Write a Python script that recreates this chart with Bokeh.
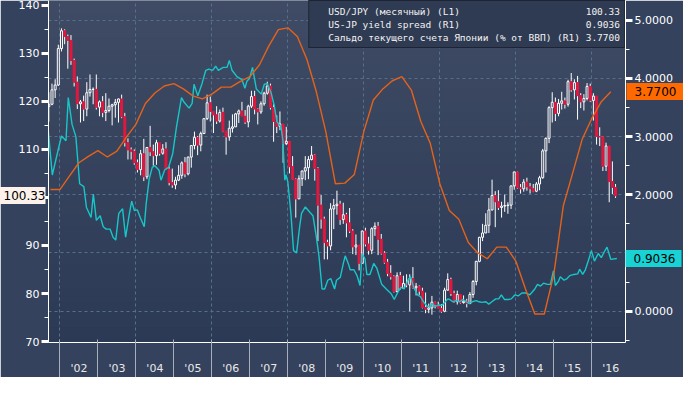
from bokeh.plotting import figure
from bokeh.models import (Range1d, LinearAxis, FixedTicker, SingleIntervalTicker,
                          NumeralTickFormatter, Grid, Legend, LegendItem,
                          BoxAnnotation, ColumnDataSource)
from bokeh.embed import file_html
from bokeh.resources import INLINE

# ---------------- data ----------------
# USD/JPY monthly candles, Sep 2001 .. Aug 2016
first_month = (2001, 9)
first_open = 118.9
usdjpy_close = [
    119.4, 122.4, 123.4, 131.0,
    134.7, 133.5, 132.7, 128.5, 124.0, 119.5, 119.9, 118.4, 121.8, 122.5, 122.5, 118.8,
    119.9, 117.7, 118.1, 119.0, 119.3, 119.8, 120.5, 116.8, 111.4, 109.9, 109.6, 107.2,
    105.8, 109.1, 104.3, 110.4, 109.5, 108.7, 111.4, 109.2, 110.1, 105.9, 103.1, 102.6,
    103.6, 104.6, 107.2, 104.9, 108.4, 110.8, 112.5, 110.9, 113.3, 116.4, 119.7, 117.9,
    117.2, 115.9, 117.7, 113.8, 112.6, 114.4, 114.7, 117.4, 118.0, 116.9, 115.7, 119.0,
    121.0, 118.4, 117.8, 119.5, 121.7, 123.2, 118.7, 115.8, 114.8, 115.3, 111.2, 111.7,
    106.4, 103.8, 99.7, 103.9, 105.5, 106.2, 107.9, 108.8, 106.0, 98.4, 95.5, 90.6,
    89.9, 97.6, 98.3, 98.6, 95.4, 96.4, 94.7, 93.0, 89.7, 90.1, 86.3, 93.0,
    90.3, 89.0, 93.5, 94.0, 91.3, 88.4, 86.5, 84.2, 83.5, 80.4, 83.7, 81.1,
    82.1, 81.8, 83.1, 81.2, 81.5, 80.5, 77.1, 76.7, 77.0, 78.2, 77.6, 76.9,
    76.3, 80.7, 82.9, 80.0, 78.3, 79.8, 78.1, 78.4, 77.9, 79.8, 82.5, 86.7,
    91.7, 92.6, 94.2, 97.4, 100.4, 99.1, 97.9, 98.2, 98.3, 98.4, 102.4, 105.3,
    102.0, 101.8, 103.2, 102.2, 101.8, 101.3, 102.8, 104.1, 109.7, 112.3, 118.7, 119.8,
    117.5, 119.6, 120.1, 119.4, 124.1, 122.4, 123.9, 121.2, 119.9, 120.6, 123.1, 120.2,
    121.1, 112.7, 112.6, 106.5, 110.7, 103.3, 102.1, 100.33,
]
usdjpy_high = [
    121.9, 123.7, 124.6, 131.8,
    135.2, 135.0, 133.9, 133.8, 128.9, 125.2, 120.3, 121.2, 124.0, 125.6, 122.9, 125.6,
    120.2, 121.1, 121.7, 120.6, 119.5, 120.5, 120.6, 121.4, 117.6, 112.3, 110.4, 110.0,
    107.9, 109.9, 112.2, 110.5, 114.9, 111.0, 112.0, 111.4, 111.1, 111.5, 106.4, 106.0,
    104.3, 106.7, 107.5, 108.4, 108.5, 110.9, 113.7, 112.8, 113.7, 116.4, 121.4, 121.0,
    117.9, 119.0, 118.3, 118.7, 113.8, 116.0, 117.3, 117.6, 118.3, 119.9, 118.2, 119.3,
    122.2, 122.2, 118.6, 120.0, 122.0, 124.1, 123.7, 119.4, 117.1, 117.9, 115.3, 114.7,
    111.5, 108.6, 104.0, 104.6, 105.6, 108.6, 108.6, 110.7, 109.0, 106.3, 100.5, 96.0,
    91.2, 98.8, 99.7, 101.4, 99.3, 98.9, 96.8, 97.8, 93.4, 92.3, 90.0, 93.1,
    93.7, 91.8, 93.8, 94.8, 94.9, 92.4, 88.8, 87.2, 85.9, 83.8, 84.4, 84.5,
    83.7, 84.0, 84.0, 85.5, 82.2, 81.7, 81.2, 80.2, 77.9, 79.5, 78.3, 78.3,
    77.8, 81.2, 84.2, 83.3, 80.6, 80.6, 79.9, 79.6, 78.9, 80.3, 82.8, 86.8,
    91.8, 94.5, 96.7, 99.9, 103.7, 101.3, 101.5, 99.1, 100.6, 99.0, 102.5, 105.4,
    105.4, 102.8, 103.8, 104.1, 103.0, 102.8, 103.2, 104.5, 110.1, 112.5, 119.0, 121.9,
    120.8, 120.5, 122.0, 120.8, 124.5, 125.9, 124.6, 125.3, 121.7, 121.5, 123.8, 123.7,
    121.7, 121.0, 114.6, 112.7, 111.4, 110.5, 107.5, 102.8,
]
usdjpy_low = [
    115.8, 119.2, 120.7, 123.2,
    130.4, 131.9, 126.8, 127.6, 123.1, 118.4, 115.6, 115.9, 116.9, 121.0, 119.4, 118.3,
    116.9, 116.7, 115.9, 117.7, 115.0, 116.6, 115.6, 116.5, 110.6, 107.9, 107.9, 106.8,
    105.2, 104.6, 103.4, 103.8, 108.6, 106.6, 106.8, 108.7, 108.9, 105.8, 102.5, 102.0,
    101.7, 103.4, 103.9, 104.2, 104.6, 106.2, 110.0, 108.8, 109.6, 113.3, 116.1, 115.8,
    113.4, 115.3, 115.6, 113.6, 108.9, 111.8, 113.5, 114.7, 115.5, 116.9, 115.3, 114.6,
    118.6, 117.3, 115.2, 117.4, 119.1, 121.4, 118.3, 111.6, 113.4, 114.0, 107.2, 110.9,
    105.0, 103.7, 95.8, 99.7, 102.4, 103.6, 103.8, 107.7, 103.5, 90.9, 93.5, 87.1,
    87.1, 89.0, 93.4, 96.4, 94.3, 94.5, 91.7, 92.6, 88.2, 88.0, 84.8, 86.3,
    89.8, 88.1, 88.2, 92.0, 88.0, 88.1, 86.2, 83.6, 82.9, 80.2, 80.2, 80.8,
    81.1, 81.3, 76.3, 81.0, 79.6, 79.7, 76.9, 75.9, 75.9, 75.6, 76.9, 76.9,
    76.0, 76.1, 80.6, 79.5, 78.1, 77.7, 77.9, 77.9, 77.1, 77.8, 79.1, 81.7,
    86.5, 90.9, 92.6, 92.6, 97.3, 93.8, 97.4, 95.8, 97.0, 96.6, 97.6, 101.6,
    101.8, 100.8, 101.2, 101.4, 100.8, 101.1, 101.1, 101.5, 103.9, 105.2, 111.3, 115.6,
    115.9, 116.9, 118.3, 118.5, 118.9, 122.0, 120.4, 116.2, 118.6, 118.1, 120.2, 119.9,
    116.0, 111.0, 110.7, 105.5, 105.5, 99.0, 100.7, 99.9,
]

# US-JP yield spread (R1), decimal-year dates
spread_dates = [
    2001.68, 2001.80, 2002.04, 2002.16, 2002.22, 2002.32, 2002.42, 2002.52, 2002.63, 2002.70,
    2002.82, 2002.88, 2002.96, 2003.06, 2003.14, 2003.22, 2003.32, 2003.40, 2003.47, 2003.55,
    2003.65, 2003.73, 2003.83, 2003.89, 2003.96, 2004.04, 2004.12, 2004.22, 2004.27, 2004.35,
    2004.43, 2004.50, 2004.61, 2004.66, 2004.76, 2004.86, 2004.97, 2005.07, 2005.20, 2005.27,
    2005.40, 2005.48, 2005.53, 2005.63, 2005.74, 2005.84, 2005.92, 2006.02, 2006.10, 2006.17,
    2006.30, 2006.40, 2006.46, 2006.53, 2006.66, 2006.79, 2006.87, 2006.92, 2006.99, 2007.07,
    2007.17, 2007.30, 2007.38, 2007.46, 2007.56, 2007.64, 2007.71, 2007.82, 2007.87, 2007.92,
    2007.95, 2008.00, 2008.08, 2008.15, 2008.23, 2008.31, 2008.36, 2008.46, 2008.59, 2008.66,
    2008.74, 2008.82, 2008.90, 2008.97, 2009.05, 2009.13, 2009.23, 2009.28, 2009.38, 2009.46,
    2009.51, 2009.59, 2009.64, 2009.74, 2009.82, 2009.90, 2009.95, 2010.03, 2010.08, 2010.16,
    2010.26, 2010.34, 2010.47, 2010.59, 2010.72, 2010.80, 2010.90, 2010.98, 2011.06, 2011.16,
    2011.23, 2011.31, 2011.41, 2011.49, 2011.57, 2011.67, 2011.75, 2011.80, 2011.88, 2011.95,
    2012.06, 2012.13, 2012.21, 2012.26, 2012.34, 2012.42, 2012.52, 2012.60, 2012.70, 2012.78,
    2012.85, 2012.96, 2013.03, 2013.11, 2013.21, 2013.29, 2013.37, 2013.47, 2013.55, 2013.62,
    2013.70, 2013.80, 2013.88, 2013.98, 2014.06, 2014.16, 2014.27, 2014.37, 2014.50, 2014.57,
    2014.65, 2014.73, 2014.83, 2014.91, 2014.99, 2015.04, 2015.12, 2015.17, 2015.27, 2015.35,
    2015.42, 2015.53, 2015.63, 2015.68, 2015.76, 2015.83, 2015.91, 2015.99, 2016.07, 2016.17,
    2016.25, 2016.33, 2016.40, 2016.50, 2016.66,
]
spread_values = [
    3.21, 2.34, 3.01, 2.93, 3.67, 3.21, 3.00, 2.19, 2.14, 1.78,
    1.61, 2.01, 1.56, 1.64, 1.45, 1.41, 1.41, 1.27, 1.22, 1.68,
    1.76, 1.27, 1.68, 1.89, 1.73, 1.74, 1.60, 1.45, 1.84, 2.27,
    2.47, 2.50, 2.42, 2.25, 2.43, 2.47, 2.71, 3.17, 3.67, 3.59,
    3.49, 3.57, 3.90, 3.70, 3.91, 4.14, 4.16, 4.14, 4.21, 4.14,
    4.19, 4.19, 4.31, 4.14, 4.03, 3.98, 3.83, 3.95, 4.00, 4.19,
    3.82, 3.73, 3.90, 3.91, 3.75, 3.54, 3.26, 3.17, 2.93, 2.25,
    2.34, 2.22, 1.68, 1.04, 1.00, 1.45, 1.68, 1.79, 1.69, 1.64,
    1.32, 0.94, 0.38, 0.38, 0.53, 0.56, 0.38, 0.53, 0.58, 0.82,
    0.95, 0.82, 0.71, 0.71, 0.61, 0.44, 0.99, 0.90, 0.63, 0.63,
    0.82, 0.74, 0.46, 0.38, 0.30, 0.20, 0.33, 0.41, 0.38, 0.53,
    0.59, 0.41, 0.28, 0.25, 0.16, 0.08, 0.08, 0.13, 0.08, 0.10,
    0.10, 0.15, 0.21, 0.20, 0.16, 0.18, 0.16, 0.20, 0.16, 0.13,
    0.16, 0.18, 0.16, 0.15, 0.16, 0.12, 0.16, 0.21, 0.21, 0.28,
    0.20, 0.20, 0.21, 0.28, 0.26, 0.31, 0.31, 0.28, 0.38, 0.46,
    0.43, 0.48, 0.46, 0.46, 0.69, 0.44, 0.51, 0.59, 0.53, 0.56,
    0.61, 0.63, 0.64, 0.72, 0.63, 0.71, 0.87, 1.04, 0.86, 0.99,
    0.92, 1.02, 1.10, 0.89, 0.9036,
]

# Japan current account, % of GDP (R1), quarterly from 2001 Q4
ca_start = 2001.75
ca_values = [
    2.09,
    2.09, 2.32, 2.55, 2.66,
    2.76, 2.65, 2.75, 2.99,
    3.21, 3.57, 3.75, 3.87,
    3.91, 3.82, 3.70, 3.65,
    3.73, 3.85, 3.85, 3.95,
    4.03, 4.23, 4.56, 4.84,
    4.87, 4.72, 4.33, 3.77,
    3.08, 2.19, 2.20, 2.35,
    3.09, 3.63, 3.82, 3.96,
    4.03, 3.80, 3.26, 2.88,
    2.19, 1.73, 1.58, 1.18,
    1.00, 0.90, 1.10, 1.10,
    0.86, 0.39, -0.05, -0.05,
    0.63, 1.81, 2.38, 2.96,
    3.31, 3.60, 3.77,
]

years = list(range(2002, 2017))
year_labels = ["'02", "'03", "'04", "'05", "'06", "'07", "'08", "'09",
               "'10", "'11", "'12", "'13", "'14", "'15", "'16"]

legend_names = ["USD/JPY (месячный) (L1)",
                "US-JP yield spread (R1)",
                "Сальдо текущего счета Японии (% от ВВП) (R1)"]

# ---------------- derived ----------------
n = len(usdjpy_close)
t = []
yy, mm = first_month
for i in range(n):
    t.append(yy + (mm - 0.5) / 12.0)
    mm += 1
    if mm > 12:
        mm = 1
        yy += 1
opens = [first_open] + usdjpy_close[:-1]
ca_dates = [ca_start + 0.25 * i for i in range(len(ca_values))]

up = dict(x=[], o=[], c=[], h=[], l=[], bt=[], bb=[])
dn = dict(x=[], o=[], c=[], h=[], l=[], bt=[], bb=[])
for x, o, h, l, c in zip(t, opens, usdjpy_high, usdjpy_low, usdjpy_close):
    d = up if c >= o else dn
    d["x"].append(x); d["o"].append(o); d["c"].append(c)
    d["h"].append(h); d["l"].append(l)
    d["bt"].append(max(o, c)); d["bb"].append(min(o, c))

W, H = 683, 377
BL, BR, BT, BB = 48, 58, 0, 34          # borders around the frame
X0, X1 = 2001.70, 2016.887
L0, L1 = 69.8, 141.0
R0, R1 = -0.54, 5.34
p = figure(width=W, height=H, output_backend="svg", toolbar_location=None,
           x_range=Range1d(X0, X1), y_range=Range1d(L0, L1),
           x_axis_location=None, y_axis_location=None,
           min_border_left=BL, min_border_right=BR, min_border_top=BT,
           min_border_bottom=BB)
p.extra_y_ranges = {"right": Range1d(R0, R1)}
p.outline_line_color = None
p.grid.grid_line_color = None
p.background_fill_color = "#36435e"
p.border_fill_color = "#35425d"

# background gradient
top_c = (0x3f, 0x4b, 0x64)
bot_c = (0x2a, 0x38, 0x54)
nb = 30
for i in range(nb):
    f = i / (nb - 1)
    col = "#%02x%02x%02x" % tuple(int(round(a + (b - a) * f)) for a, b in zip(top_c, bot_c))
    p.add_layout(BoxAnnotation(left=0, right=W, top=i * H / nb, bottom=(i + 1) * H / nb + 1,
                               left_units="canvas", right_units="canvas",
                               top_units="canvas", bottom_units="canvas",
                               fill_color=col, fill_alpha=1, line_alpha=0,
                               level="image", propagate_hover=False))

grid_col = "#56708c"
p.add_layout(Grid(dimension=0, ticker=FixedTicker(ticks=years[::2]),
                  grid_line_color=grid_col, grid_line_dash="3 3", grid_line_width=1))
p.add_layout(Grid(dimension=1, y_range_name="right", ticker=FixedTicker(ticks=[0, 1, 2, 3, 4, 5]),
                  grid_line_color=grid_col, grid_line_dash="3 3", grid_line_width=1))

# candles
su = ColumnDataSource(up)
sd = ColumnDataSource(dn)
for s in (su, sd):
    p.segment(x0="x", y0="bt", x1="x", y1="h", source=s, line_color="white", line_width=1)
    p.segment(x0="x", y0="l", x1="x", y1="bb", source=s, line_color="white", line_width=1)
p.vbar(x="x", width=0.052, top="bt", bottom="bb", source=su,
       fill_alpha=0, line_color="white", line_width=1)
p.vbar(x="x", width=0.052, top="bt", bottom="bb", source=sd,
       fill_color="#e3173e", line_color="#e3173e", line_width=1)

cyan = "#17c6c8"
orange = "#e5621a"
p.line(spread_dates, spread_values, y_range_name="right", line_color=cyan, line_width=1.4)
p.line(ca_dates, ca_values, y_range_name="right", line_color=orange, line_width=1.4)

# axes
lab_font = "DejaVu Sans"
yl = LinearAxis(ticker=SingleIntervalTicker(interval=10, num_minor_ticks=2),
                major_label_overrides={100: ""})
yr = LinearAxis(y_range_name="right", ticker=SingleIntervalTicker(interval=1, num_minor_ticks=2),
                formatter=NumeralTickFormatter(format="0.0000"),
                major_label_overrides={1: ""})
for ax in (yl, yr):
    ax.axis_line_color = "white"
    ax.major_tick_line_color = "white"
    ax.major_tick_line_width = 3
    ax.major_tick_out = 7
    ax.major_tick_in = 0
    ax.minor_tick_line_color = "white"
    ax.minor_tick_out = 4
    ax.minor_tick_in = 0
    ax.major_label_standoff = 2
    ax.major_label_text_color = "white"
    ax.major_label_text_font = lab_font
    ax.major_label_text_font_size = "11px"
p.add_layout(yl, "left")
p.add_layout(yr, "right")

mids = [y + 0.5 for y in years]
xa = LinearAxis(ticker=FixedTicker(ticks=mids, minor_ticks=years),
                major_label_overrides={m: s for m, s in zip(mids, year_labels)})
xa.axis_line_color = "white"
xa.major_tick_line_color = None
xa.major_tick_out = 0
xa.major_tick_in = 0
xa.minor_tick_line_color = "#a7afbb"
xa.minor_tick_out = 36
xa.minor_tick_in = 3
xa.major_label_standoff = -17
xa.major_label_text_color = "#e8e8e8"
xa.major_label_text_font = lab_font
xa.major_label_text_font_size = "11px"
p.add_layout(xa, "below")


# last-value tags: one thin extra axis per tag; its single thick tick is the
# coloured tag box and its tick label is the value
def tag_axis(value, fmt, colour, range_name, tick_out, tick_in, standoff):
    kw = {} if range_name is None else {"y_range_name": range_name}
    ax = LinearAxis(ticker=FixedTicker(ticks=[value]),
                    formatter=NumeralTickFormatter(format=fmt), **kw)
    ax.axis_line_color = None
    ax.minor_tick_line_color = None
    ax.major_tick_line_color = colour
    ax.major_tick_line_width = 17
    ax.major_tick_out = tick_out
    ax.major_tick_in = tick_in
    ax.major_label_standoff = standoff
    ax.major_label_text_color = "black"
    ax.major_label_text_font = lab_font
    ax.major_label_text_font_size = "12px"
    return ax


p.add_layout(tag_axis(usdjpy_close[-1], "0.00", "#fdf2eb", None, 17, 30, -47), "left")
p.add_layout(tag_axis(ca_values[-1], "0.0000", "#ff6a00", "right", 8, 49, -49), "right")
p.add_layout(tag_axis(spread_values[-1], "0.0000", "#18d2d4", "right", 2, 54, -48), "right")

# legend
swatches = ["#fbf1ea", "#12d0d2", "#ff5c00"]
values_txt = ["%.2f" % usdjpy_close[-1], "%.4f" % spread_values[-1], "%.4f" % ca_values[-1]]
width_chars = max(len(nm) for nm in legend_names) + 1 + max(len(v) for v in values_txt)
items = []
for nm, col, vt in zip(legend_names, swatches, values_txt):
    r = p.scatter(x=[], y=[], marker="square", size=9, fill_color=col, line_color=col)
    pad = width_chars - len(nm) - len(vt)
    items.append(LegendItem(label=nm + "\u00a0" * pad + vt, renderers=[r]))
leg = Legend(items=items, location="top_right", margin=0, padding=4, spacing=1,
             label_height=12, glyph_width=9, glyph_height=9, label_standoff=6,
             label_text_font="DejaVu Sans Mono", label_text_font_size="9.5px",
             label_text_color="#f2f2f2", background_fill_color="#2f3b53",
             background_fill_alpha=1, border_line_color="#0c1018", border_line_width=1.5)
p.add_layout(leg)

open("out.html", "w").write(file_html(p, INLINE))
